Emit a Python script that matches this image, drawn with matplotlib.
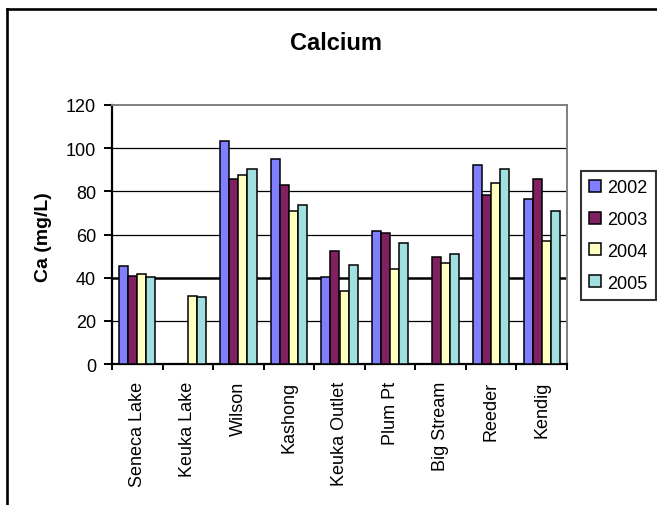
import numpy as np
import matplotlib
matplotlib.use('Agg')
import matplotlib.pyplot as plt
from matplotlib.lines import Line2D

plt.rcParams['font.family'] = ['Liberation Sans', 'DejaVu Sans']

sites = ['Seneca Lake', 'Keuka Lake', 'Wilson', 'Kashong', 'Keuka Outlet',
         'Plum Pt', 'Big Stream', 'Reeder', 'Kendig']
years = ['2002', '2003', '2004', '2005']
ca_2002 = [45.2, np.nan, 103.4, 95.1, 40.3, 61.5, np.nan, 92.3, 76.6]
ca_2003 = [40.6, np.nan, 85.5, 83.1, 52.3, 60.6, 49.5, 78.5, 85.5]
ca_2004 = [41.5, 31.4, 87.4, 70.8, 33.8, 44.0, 46.8, 83.7, 56.9]
ca_2005 = [40.3, 31.1, 90.2, 73.5, 45.8, 56.0, 50.9, 90.5, 71.1]
series = [ca_2002, ca_2003, ca_2004, ca_2005]
colors = ['#8080FF', '#802060', '#FFFFC0', '#A0E0E0']

W, H = 657, 506
fig = plt.figure(figsize=(W / 100, H / 100), dpi=100)

# outer chart frame (only top and left edges visible)
fig.add_artist(Line2D([6.5 / W, 1.0], [1 - 10 / H, 1 - 10 / H],
                      transform=fig.transFigure, color='black', linewidth=1.9))
fig.add_artist(Line2D([6.5 / W, 6.5 / W], [0.0, 1 - 10 / H],
                      transform=fig.transFigure, color='black', linewidth=1.9))

ax = fig.add_axes([112 / W, 1 - 365 / H, 455 / W, 259 / H])

x = np.arange(len(sites))
w = 0.18
for i, (vals, c, yr) in enumerate(zip(series, colors, years)):
    ax.bar(x + (i - 1.5) * w, vals, width=w, color=c, edgecolor='black',
           linewidth=1.1, label=yr, zorder=3)

ax.set_xlim(-0.5, len(sites) - 0.5)
ax.set_ylim(0, 120)
ax.set_yticks(range(0, 121, 20))
ax.yaxis.grid(True, color='black', linewidth=0.9, zorder=0)
for gl, v in zip(ax.yaxis.get_gridlines(), range(0, 121, 20)):
    if v == 40:
        gl.set_linewidth(1.8)
    if v == 120:
        gl.set_visible(False)

ax.set_xticks(x)
ax.set_xticklabels(sites, rotation=90, fontsize=13, va='top')
ax.set_xticks(np.arange(-0.5, len(sites), 1), minor=True)
ax.tick_params(axis='x', which='major', length=0, pad=12)
ax.tick_params(axis='x', which='minor', length=4.5, width=1.4, direction='out')
ax.tick_params(axis='y', length=6, width=1.4, labelsize=13, pad=5.5)

for s in ['left', 'bottom']:
    ax.spines[s].set_color('black')
    ax.spines[s].set_linewidth(1.6)
for s in ['top', 'right']:
    ax.spines[s].set_color('#808080')
    ax.spines[s].set_linewidth(1.4)

fig.text(44 / W, 1 - 237 / H, 'Ca (mg/L)', rotation=90, ha='center',
         va='center', fontsize=14, fontweight='bold')
fig.text(336 / W, 1 - 44 / H, 'Calcium', ha='center', va='center',
         fontsize=17, fontweight='bold')

leg = ax.legend(loc='upper left', bbox_to_anchor=(581 / W, 1 - 172 / H),
                bbox_transform=fig.transFigure, fontsize=13,
                frameon=True, fancybox=False, edgecolor='black',
                handlelength=0.65, handleheight=0.65, handletextpad=0.35,
                labelspacing=0.82, borderpad=0.45, borderaxespad=0.0)
leg.get_frame().set_linewidth(1.5)

fig.savefig('out.png', dpi=100)
